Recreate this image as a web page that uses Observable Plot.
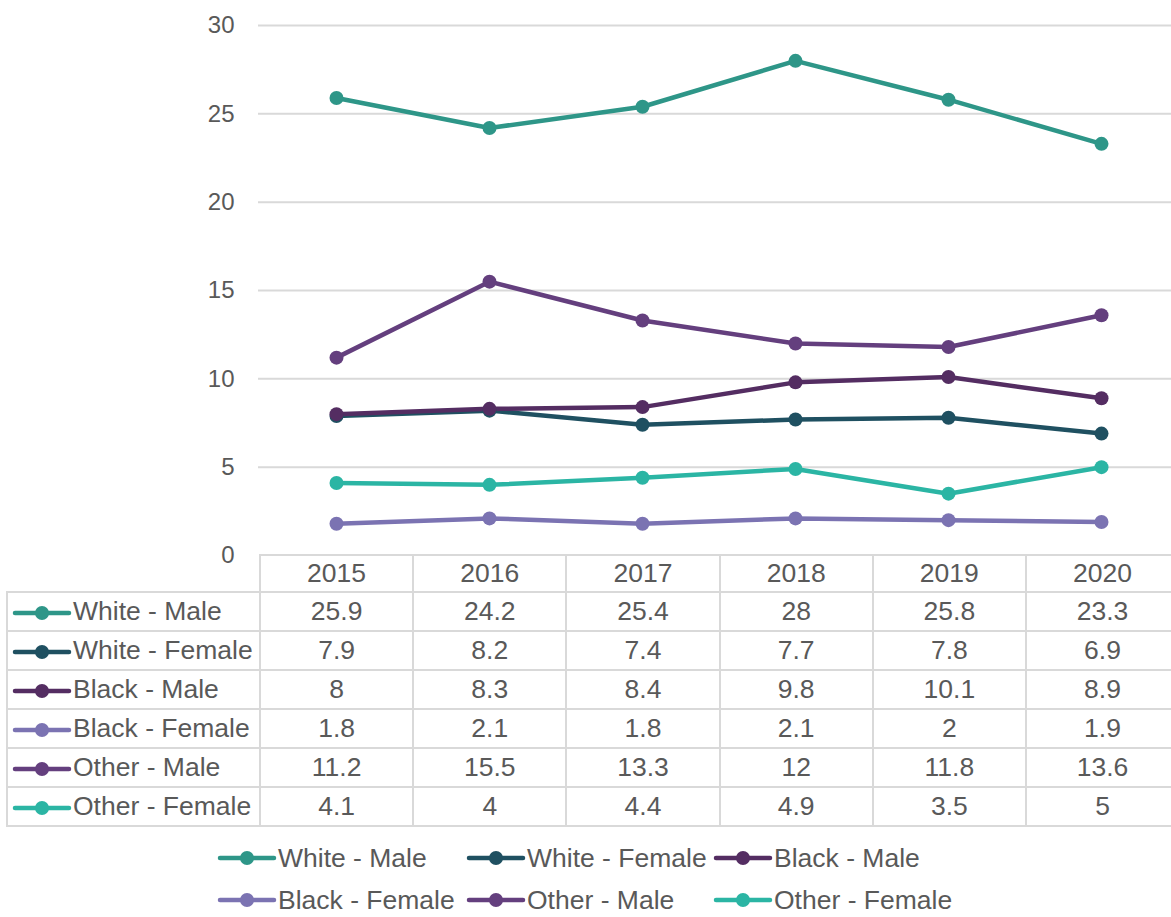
<!DOCTYPE html>
<html>
<head>
<meta charset="utf-8">
<script src="https://cdn.jsdelivr.net/npm/d3@7"></script>
<script src="https://cdn.jsdelivr.net/npm/@observablehq/plot@0.6"></script>
<style>
  html, body { margin: 0; padding: 0; background: #ffffff; }
  #wrap { position: relative; width: 1171px; height: 917px; overflow: hidden; font-family: "Liberation Sans", Arial, sans-serif; color: #595959; }
  #chart { position: absolute; left: 0; top: 0; }
  table { position: absolute; left: 6px; top: 554px; border-collapse: collapse; table-layout: fixed; font-size: 26.5px; color: #595959; }
  td { border: 2px solid #d9d9d9; padding: 0; text-align: center; white-space: nowrap; overflow: hidden; }
  tr.head td { height: 35px; }
  tr.row td { height: 37px; }
  td.corner { border-top-style: hidden; border-left-style: hidden; }
  td.name { text-align: left; padding-left: 4px; }
  .sw { display: inline-block; vertical-align: middle; margin-right: 1px; }
  .sw svg { display: block; }
  #legend { position: absolute; left: 217px; top: 849px; width: 760px; font-size: 26.5px; }
  .item { position: absolute; display: flex; align-items: center; white-space: nowrap; line-height: 18px; height: 18px; }
</style>
</head>
<body>
<div id="wrap">
  <div id="chart"></div>
  <table id="tbl"></table>
  <div id="legend"></div>
</div>
<script>
const years = [2015, 2016, 2017, 2018, 2019, 2020];
const series = ["White - Male", "White - Female", "Black - Male", "Black - Female", "Other - Male", "Other - Female"];
const colors = ["#2E9688", "#1F5061", "#542D62", "#7B73B2", "#643F7E", "#2BB5A4"];
const whiteMale = [25.9, 24.2, 25.4, 28, 25.8, 23.3];
const whiteFemale = [7.9, 8.2, 7.4, 7.7, 7.8, 6.9];
const blackMale = [8, 8.3, 8.4, 9.8, 10.1, 8.9];
const blackFemale = [1.8, 2.1, 1.8, 2.1, 2, 1.9];
const otherMale = [11.2, 15.5, 13.3, 12, 11.8, 13.6];
const otherFemale = [4.1, 4, 4.4, 4.9, 3.5, 5];
const yTicks = [0, 5, 10, 15, 20, 25, 30];

const values = [whiteMale, whiteFemale, blackMale, blackFemale, otherMale, otherFemale];
const data = series.flatMap((s, i) => years.map((yr, j) => ({series: s, year: yr, value: values[i][j]})));

const chart = Plot.plot({
  width: 1171,
  height: 560,
  marginTop: 25,
  marginBottom: 5,
  marginLeft: 258,
  marginRight: 0,
  style: {fontFamily: "'Liberation Sans', Arial, sans-serif", fontSize: "24px", color: "#595959", background: "transparent", overflow: "visible"},
  x: {type: "point", domain: years, range: [335.5, 1101.5], padding: 0, axis: null},
  y: {domain: [0, 30]},
  color: {domain: series, range: colors},
  marks: [
    Plot.gridY(yTicks.filter(d => d > 0), {stroke: "#d9d9d9", strokeOpacity: 1, strokeWidth: 2}),
    Plot.axisY({ticks: yTicks, tickSize: 0, tickPadding: 24, fontSize: 24, label: null}),
    Plot.line(data, {x: "year", y: "value", z: "series", stroke: "series", strokeWidth: 4.5}),
    Plot.dot(data, {x: "year", y: "value", fill: "series", r: 7})
  ]
});
document.getElementById("chart").appendChild(chart);

function swatch(color) {
  return `<span class="sw"><svg width="60" height="16"><line x1="3" y1="8" x2="57" y2="8" stroke="${color}" stroke-width="4.5" stroke-linecap="round"/><circle cx="30" cy="8" r="7" fill="${color}"/></svg></span>`;
}

// table
const tbl = document.getElementById("tbl");
let html = `<colgroup><col style="width:253px">${years.map(() => '<col style="width:153.2px">').join("")}</colgroup>`;
html += `<tr class="head"><td class="corner"></td>${years.map(y => `<td>${y}</td>`).join("")}</tr>`;
series.forEach((s, i) => {
  html += `<tr class="row"><td class="name">${swatch(colors[i])}${s}</td>${values[i].map(v => `<td>${v}</td>`).join("")}</tr>`;
});
tbl.innerHTML = html;
tbl.style.width = (253 + 6 * 153.2) + "px";

// legend
const legend = document.getElementById("legend");
const colX = [0, 249, 496];
series.forEach((s, i) => {
  const el = document.createElement("div");
  el.className = "item";
  el.style.left = colX[i % 3] + "px";
  el.style.top = (Math.floor(i / 3) * 42) + "px";
  el.innerHTML = swatch(colors[i]) + s;
  legend.appendChild(el);
});
</script>
</body>
</html>
